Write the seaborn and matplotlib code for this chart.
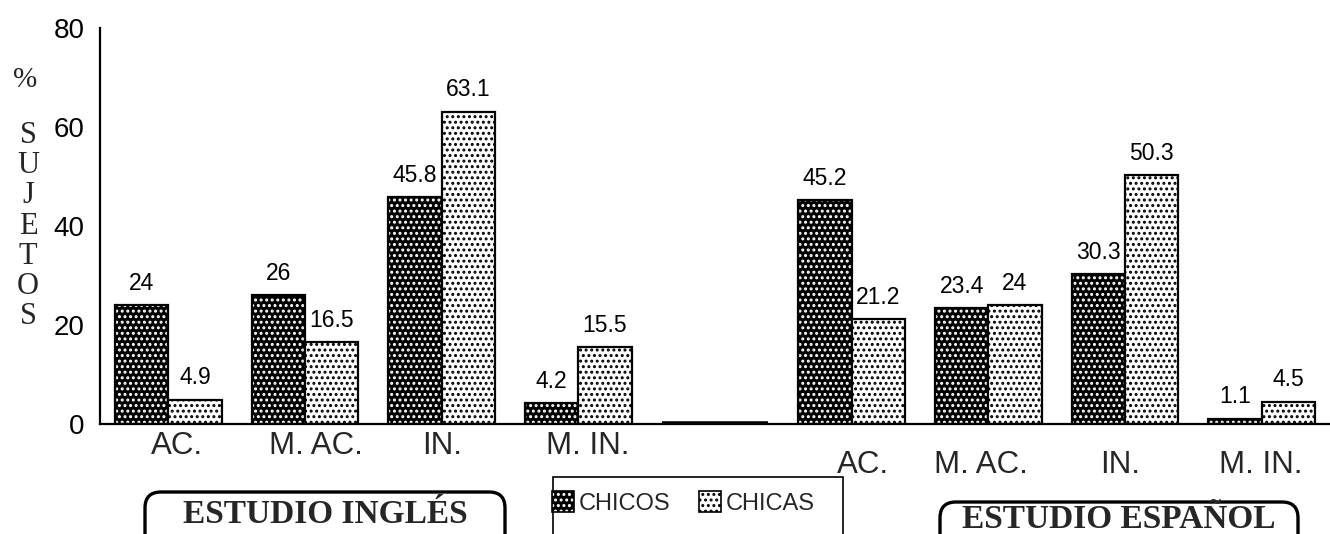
import numpy as np
import pandas as pd
import matplotlib
matplotlib.use("Agg")
import matplotlib.pyplot as plt
import seaborn as sns
from matplotlib.patches import FancyBboxPatch, Rectangle, Patch

# ---------------- data ----------------
cat_keys = ["ING_AC", "ING_MAC", "ING_IN", "ING_MIN", "BLANK",
            "ESP_AC", "ESP_MAC", "ESP_IN", "ESP_MIN"]
cat_labels = ["AC.", "M. AC.", "IN.", "M. IN.", "",
              "AC.", "M. AC.", "IN.", "M. IN."]
chicos = [24, 26, 45.8, 4.2, 0, 45.2, 23.4, 30.3, 1.1]
chicas = [4.9, 16.5, 63.1, 15.5, 0, 21.2, 24, 50.3, 4.5]
series_names = ["CHICOS", "CHICAS"]
yticks = [0, 20, 40, 60, 80]

# --------------- styling ---------------
W, H = 1330, 534
SANS = "Liberation Sans"
SERIF = "Liberation Serif"

sns.set_theme(style="white")
plt.rcParams["font.family"] = [SANS, "DejaVu Sans"]
plt.rcParams["hatch.linewidth"] = 1.4

df = pd.DataFrame({
    "cat": cat_keys * 2,
    "sexo": [series_names[0]] * len(cat_keys) + [series_names[1]] * len(cat_keys),
    "valor": chicos + chicas,
})

fig = plt.figure(figsize=(W / 100, H / 100), dpi=100)
ax_left, ax_right = 100 / W, 1.0
ax_bottom, ax_top = (H - 424) / H, (H - 28) / H
ax = fig.add_axes([ax_left, ax_bottom, ax_right - ax_left, ax_top - ax_bottom])

sns.barplot(data=df, x="cat", y="valor", hue="sexo", order=cat_keys,
            hue_order=series_names, palette=["black", "white"], saturation=1,
            width=0.78, edgecolor="black", linewidth=1.6, legend=False,
            errorbar=None, ax=ax)

hatch_colors = [(1, 1, 1, 1), (0, 0, 0, 1)]
for cont, hc in zip(ax.containers, hatch_colors):
    for p in cont.patches:
        p.set_hatch("...")
        p._hatch_color = hc
        if p.get_height() == 0:
            p.set_linewidth(4)
            p.set_zorder(3)

# value labels
for cont, vals in zip(ax.containers, [chicos, chicas]):
    for p, v in zip(cont.patches, vals):
        if v == 0:
            continue
        ax.annotate(f"{v:g}", xy=(p.get_x() + p.get_width() / 2, v),
                    xytext=(0, 11), textcoords="offset points",
                    ha="center", va="baseline", fontsize=16.5,
                    family=SANS, color="black")

# axes
cat_px = 137.6
ax.set_xlim(-0.5, -0.5 + (W - 100) / cat_px)
ax.set_ylim(0, 80)
ax.set_xticks(np.arange(-0.5, len(cat_keys), 1.0))
ax.set_xticklabels([])
ax.set_yticks(yticks)
ax.set_yticklabels([str(t) for t in yticks], fontsize=20, family=SANS)
ax.tick_params(axis="both", direction="inout", length=12, width=1.5,
               color="black", labelcolor="black")
ax.tick_params(axis="x", length=13)
ax.tick_params(axis="y", pad=5)
ax.set_xlabel("")
ax.set_ylabel("")
for s in ["top", "right"]:
    ax.spines[s].set_visible(False)
for s in ["left", "bottom"]:
    ax.spines[s].set_color("black")
    ax.spines[s].set_linewidth(1.6)

# category labels
label_dx = [9, 11, 0, 9, 0, 11, -7, -5, -1]      # px
label_dy = [22, 22, 22, 22, 22, 41, 41, 41, 41]  # px below axis
for i, (lab, dx, dy) in enumerate(zip(cat_labels, label_dx, label_dy)):
    if not lab:
        continue
    ax.annotate(lab, xy=(i, 0), xycoords=("data", "axes fraction"),
                xytext=(dx * 0.72, -dy * 0.72), textcoords="offset points",
                ha="center", va="center", fontsize=22.5, family=SANS,
                annotation_clip=False)

def fx(px):
    return px / W

def fy(py):
    return (H - py) / H

# y label
fig.text(fx(25), fy(80), "%", fontsize=21, family=SERIF, ha="center", va="center")
fig.text(fx(28), fy(226), "S\nU\nJ\nE\nT\nO\nS", fontsize=22, family=SERIF,
         ha="center", va="center", linespacing=1.05)

# group boxes
def group_box(x0, y0, x1, y1):
    bb = FancyBboxPatch((fx(x0), fy(y1)), fx(x1) - fx(x0), fy(y0) - fy(y1),
                        boxstyle="round,pad=0,rounding_size=0.012",
                        transform=fig.transFigure, facecolor="none",
                        edgecolor="black", linewidth=2.4, mutation_aspect=W / H,
                        clip_on=False)
    fig.add_artist(bb)

group_box(145, 492, 505, 560)
group_box(940, 502, 1298, 560)
fig.text(fx(325), fy(523), "ESTUDIO INGLÉS", fontsize=24, family=SERIF,
         weight="bold", ha="center", va="baseline")
fig.text(fx(1119), fy(528), "ESTUDIO ESPAÑOL", fontsize=24, family=SERIF,
         weight="bold", ha="center", va="baseline")

# legend
fig.add_artist(Rectangle((fx(553), fy(560)), fx(843) - fx(553), fy(477) - fy(560),
                         transform=fig.transFigure, facecolor="none",
                         edgecolor="black", linewidth=1.2, clip_on=False))
handles = [Patch(facecolor=fc, edgecolor="black", linewidth=1.2, hatch="...")
           for fc in ["black", "white"]]
leg = fig.legend(handles, series_names, loc="center left",
                 bbox_to_anchor=(fx(552), fy(503)), ncol=2, frameon=False,
                 handlelength=0.95, handleheight=1.0,
                 handletextpad=0.18, columnspacing=1.2, borderpad=0,
                 borderaxespad=0, prop={"family": SANS, "size": 17})
for lh, hc in zip(leg.legend_handles, hatch_colors):
    lh._hatch_color = hc

fig.savefig("out.png", dpi=100)
